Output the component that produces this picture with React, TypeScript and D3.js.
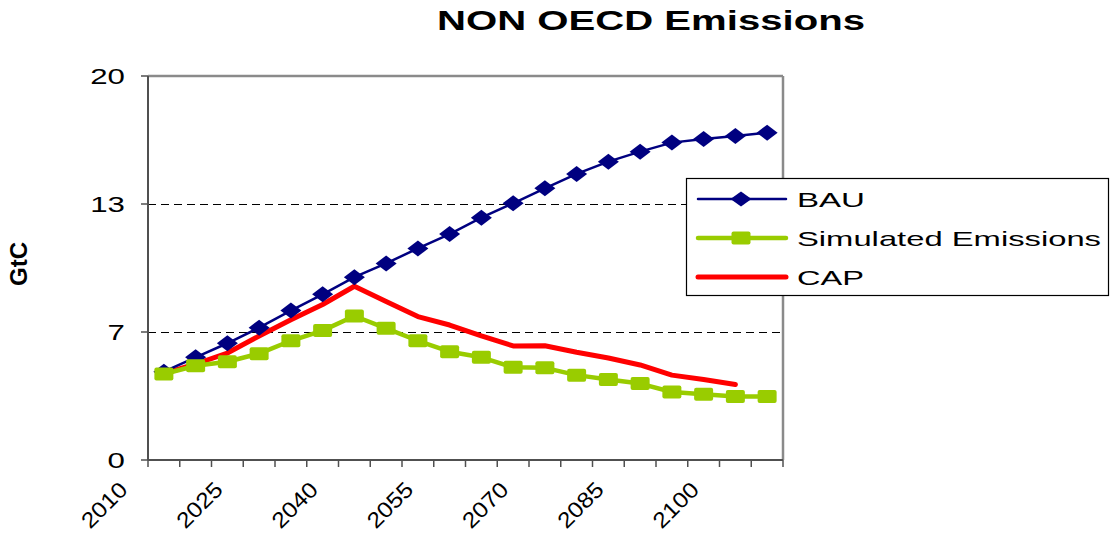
import React from "react";
import * as d3 from "d3";

const categories = ["2010","2015","2020","2025","2030","2035","2040","2045","2050","2055","2060","2065","2070","2075","2080","2085","2090","2095","2100","2105"];
const bau = [4.6, 5.35, 6.08, 6.89, 7.78, 8.63, 9.52, 10.24, 11.02, 11.77, 12.62, 13.37, 14.15, 14.9, 15.54, 16.06, 16.53, 16.72, 16.88, 17.05];
const simulated = [4.48, 4.91, 5.12, 5.54, 6.21, 6.74, 7.5, 6.86, 6.21, 5.64, 5.35, 4.83, 4.8, 4.42, 4.19, 3.98, 3.54, 3.43, 3.31, 3.31];
const cap: (number | null)[] = [4.5, 5.0, 5.57, 6.46, 7.3, 8.1, 9.05, 8.25, 7.47, 7.03, 6.46, 5.94, 5.95, 5.61, 5.31, 4.95, 4.42, 4.19, 3.93, null];
const yTicks = [0, 20 / 3, 40 / 3, 20];
const yTickLabels = ["0", "7", "13", "20"];
const xLabelEvery = 3;
const seriesNames = ["BAU", "Simulated Emissions", "CAP"];

const FONT = "'Liberation Sans', Arial, sans-serif";

export default function App() {
  const W = 1110, H = 536;
  const left = 148, right = 783, top = 76, bottom = 460;
  const x = d3.scaleBand<string>().domain(categories).range([left, right]);
  const y = d3.scaleLinear().domain([0, 20]).range([bottom, top]);
  const cx = (i: number) => (x(categories[i]) as number) + x.bandwidth() / 2;

  const line = d3.line<number | null>()
    .defined((d) => d !== null)
    .x((_, i) => cx(i))
    .y((d) => y(d as number));

  const diamond = (px: number, py: number, w: number, h: number) =>
    `M${px},${py - h / 2}L${px + w / 2},${py}L${px},${py + h / 2}L${px - w / 2},${py}Z`;

  const navy = "#000080";
  const green = "#99CC00";
  const red = "#FF0000";

  const legendItems = [
    { name: seriesNames[0], y: 199, color: navy, width: 2.5, marker: "diamond", len: 68 },
    { name: seriesNames[1], y: 238, color: green, width: 4.5, marker: "square", len: 304 },
    { name: seriesNames[2], y: 277, color: red, width: 5, marker: "none", len: 67 },
  ];

  return (
    <svg width={W} height={H} style={{ position: "absolute", left: 0, top: 0, background: "#fff" }}>
      <rect x={0} y={0} width={W} height={H} fill="#fff" />
      {/* title */}
      <text x={651} y={30} textAnchor="middle" fontFamily={FONT} fontWeight="bold" fontSize={27}
        textLength={428} lengthAdjust="spacingAndGlyphs">NON OECD Emissions</text>

      {/* y axis label */}
      <text transform="translate(27,264) rotate(-90)" textAnchor="middle" fontFamily={FONT}
        fontWeight="bold" fontSize={23} textLength={44} lengthAdjust="spacingAndGlyphs">GtC</text>

      {/* gridlines */}
      {yTicks.slice(1, 3).map((t, i) => (
        <line key={"g" + i} x1={left} x2={right} y1={Math.round(y(t)) + 0.5} y2={Math.round(y(t)) + 0.5}
          stroke="#000" strokeWidth={1} strokeDasharray="8,5" />
      ))}

      {/* plot border top/right */}
      <line x1={left} x2={right} y1={top} y2={top} stroke="#8a8a8a" strokeWidth={2.5} />
      <line x1={right} x2={right} y1={top} y2={bottom} stroke="#8a8a8a" strokeWidth={2.5} />

      {/* y axis */}
      <line x1={left} x2={left} y1={top} y2={bottom} stroke="#505050" strokeWidth={2} />
      {yTicks.map((t, i) => (
        <g key={"yt" + i}>
          <line x1={left - 7} x2={left} y1={y(t)} y2={y(t)} stroke="#505050" strokeWidth={1.5} />
          <text transform={`translate(125,${y(t)}) scale(1.42,1)`} dy="0.36em" textAnchor="end"
            fontFamily={FONT} fontSize={22}>{yTickLabels[i]}</text>
        </g>
      ))}

      {/* x axis */}
      <line x1={left} x2={right} y1={bottom} y2={bottom} stroke="#505050" strokeWidth={2} />
      {d3.range(categories.length + 1).map((i) => {
        const xx = left + i * x.step();
        return <line key={"xt" + i} x1={xx} x2={xx} y1={bottom} y2={bottom + 7} stroke="#505050" strokeWidth={1.5} />;
      })}
      {categories.map((c, i) =>
        i % xLabelEvery === 0 ? (
          <text key={"xl" + i} transform={`translate(${cx(i) - 35},491) rotate(-45) scale(1.12,1)`} textAnchor="end"
            fontFamily={FONT} fontSize={22}>{c}</text>
        ) : null
      )}

      {/* series */}
      <path d={line(cap) || ""} fill="none" stroke={red} strokeWidth={5} strokeLinejoin="round" strokeLinecap="round" />
      <path d={line(bau) || ""} fill="none" stroke={navy} strokeWidth={2.5} />
      {bau.map((v, i) => (
        <path key={"bm" + i} d={diamond(cx(i), y(v), 21, 16)} fill={navy} />
      ))}
      <path d={line(simulated) || ""} fill="none" stroke={green} strokeWidth={4.5} strokeLinejoin="round" />
      {simulated.map((v, i) => (
        <rect key={"sm" + i} x={cx(i) - 9.5} y={y(v) - 6.5} width={19} height={13} rx={2} fill={green} />
      ))}

      {/* legend */}
      <rect x={686.5} y={178.5} width={422} height={117} fill="#fff" stroke="#000" strokeWidth={1.2} />
      {legendItems.map((it) => (
        <g key={it.name}>
          <line x1={698} x2={786} y1={it.y} y2={it.y} stroke={it.color} strokeWidth={it.width} strokeLinecap="round" />
          {it.marker === "diamond" && <path d={diamond(741, it.y, 21, 15)} fill={it.color} />}
          {it.marker === "square" && <rect x={741 - 9.5} y={it.y - 6.5} width={19} height={13} rx={2} fill={it.color} />}
          <text x={797} y={it.y + 7.5} fontFamily={FONT} fontSize={21} textLength={it.len}
            lengthAdjust="spacingAndGlyphs">{it.name}</text>
        </g>
      ))}
    </svg>
  );
}
